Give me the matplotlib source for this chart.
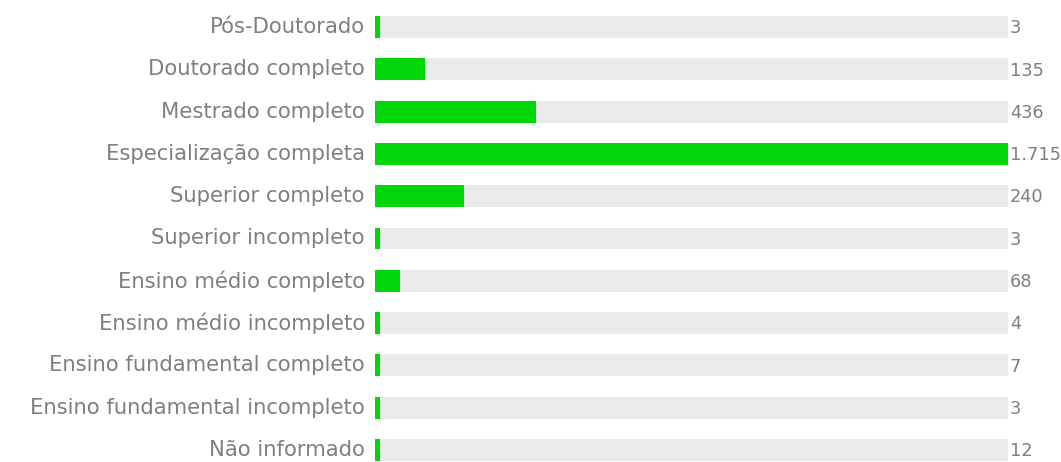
import matplotlib
matplotlib.use("Agg")
import matplotlib.pyplot as plt

# dados
categorias = ["Pós-Doutorado", "Doutorado completo", "Mestrado completo",
              "Especialização completa", "Superior completo", "Superior incompleto",
              "Ensino médio completo", "Ensino médio incompleto",
              "Ensino fundamental completo", "Ensino fundamental incompleto",
              "Não informado"]
valores = [3, 135, 436, 1715, 240, 3, 68, 4, 7, 3, 12]
rotulos = ["3", "135", "436", "1.715", "240", "3", "68", "4", "7", "3", "12"]

VERDE = "#00d60a"
CINZA = "#ebebeb"
TEXTO = "#7f7f7f"
MIN_LEN = 13  # largura minima visivel das barras pequenas

plt.rcParams['font.family'] = ['DejaVu Sans']

fig = plt.figure(figsize=(10.61, 4.62), dpi=100)
ax = fig.add_axes([375/1061, 0, (1008-375)/1061, 1])

vmax = max(valores)
y = list(range(len(categorias)))
ax.barh(y, [vmax]*len(y), height=0.52, color=CINZA, zorder=1)
ax.barh(y, [max(v, MIN_LEN) for v in valores], height=0.52, color=VERDE, zorder=2)

for i, (c, r) in enumerate(zip(categorias, rotulos)):
    ax.text(-0.016*vmax, i, c, ha='right', va='center', fontsize=15.2, color=TEXTO)
    ax.text(vmax*1.003, i + 0.03, r, ha='left', va='center', fontsize=12.8, color=TEXTO)

ax.set_xlim(0, vmax)
ax.set_ylim((462-27)/42.3, -27/42.3)
ax.axis('off')

fig.savefig("out.png", dpi=100)
